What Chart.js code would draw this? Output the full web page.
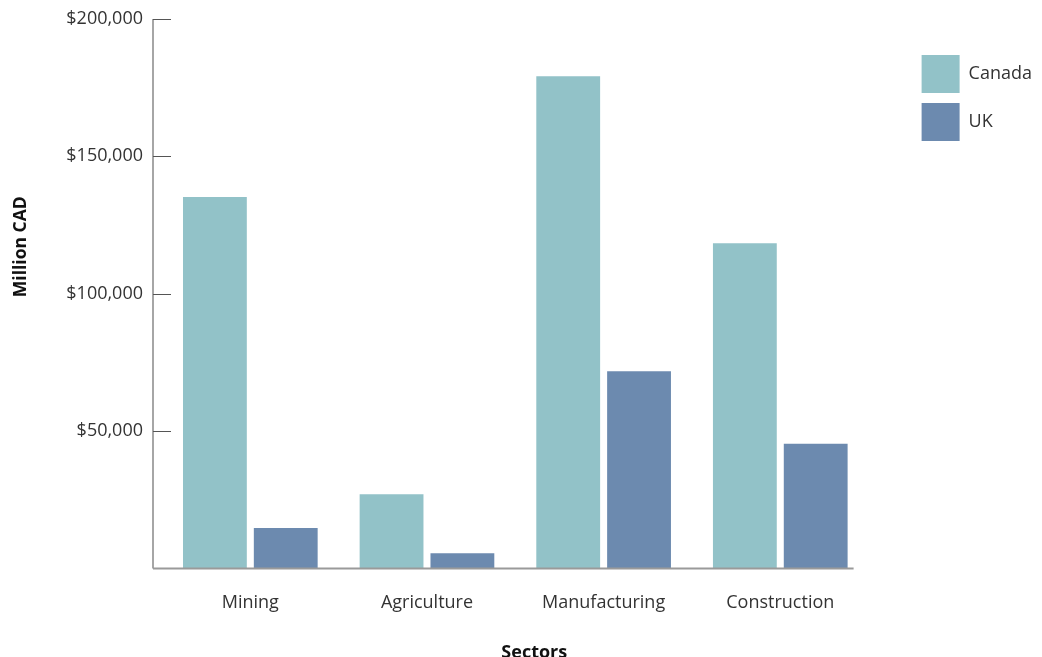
<!DOCTYPE html>
<html>
<head>
<meta charset="utf-8">
<title>Sectors</title>
<script src="https://cdn.jsdelivr.net/npm/chart.js@4.4.1/dist/chart.umd.min.js"></script>
<style>
    html, body { margin: 0; padding: 0; background: #ffffff; }
    #wrap { width: 1042px; height: 657px; }
</style>
</head>
<body>
<div id="wrap"><canvas id="sectoresChart" width="1042" height="657"></canvas></div>
<script>
// datos (millones CAD)
var categorias = ['Mining', 'Agriculture', 'Manufacturing', 'Construction'];
var valoresCanada = [135200, 27000, 179200, 118400];
var valoresUK = [14700, 5500, 71800, 45400];
var ticksY = [0, 50000, 100000, 150000, 200000];

var colorCanada = '#92c2c8';
var colorUK = '#6c8aaf';

// ejes dibujados a mano: linea vertical algo a la izquierda del area, ticks hacia dentro
var ejesPlugin = {
    id: 'ejes',
    afterDatasetsDraw: function (chart) {
        var ctx = chart.ctx;
        var area = chart.chartArea;
        var y = chart.scales.y;
        var ejeX = area.left - 9;
        var y0 = y.getPixelForValue(0);
        var yTop = y.getPixelForValue(ticksY[ticksY.length - 1]);

        ctx.save();
        ctx.strokeStyle = '#6b6b6b';
        ctx.lineWidth = 1.2;
        ctx.beginPath();
        ctx.moveTo(ejeX, yTop);
        ctx.lineTo(ejeX, y0);
        ctx.stroke();

        ctx.strokeStyle = '#9a9a9a';
        ctx.lineWidth = 2;
        ctx.beginPath();
        ctx.moveTo(ejeX, y0);
        ctx.lineTo(area.right - 15, y0);
        ctx.stroke();

        ctx.strokeStyle = '#555555';
        ctx.lineWidth = 1;
        y.ticks.forEach(function (t) {
            if (t.value === 0) return;
            var py = Math.round(y.getPixelForValue(t.value)) + 0.5;
            ctx.beginPath();
            ctx.moveTo(ejeX, py);
            ctx.lineTo(ejeX + 18, py);
            ctx.stroke();
        });
        ctx.restore();
    },
    afterDraw: function (chart) {
        // titulos de ejes
        var ctx = chart.ctx;
        var area = chart.chartArea;
        ctx.save();
        ctx.fillStyle = '#111111';
        ctx.font = 'bold 17.5px "Open Sans"';
        ctx.textAlign = 'center';
        ctx.textBaseline = 'middle';
        ctx.translate(21, (area.top + area.bottom) / 2 - 47);
        ctx.rotate(-Math.PI / 2);
        ctx.fillText('Million CAD', 0, 0);
        ctx.restore();

        ctx.save();
        ctx.fillStyle = '#111111';
        ctx.font = 'bold 18px "Open Sans"';
        ctx.textAlign = 'center';
        ctx.textBaseline = 'middle';
        ctx.fillText('Sectors', (area.left + area.right) / 2 + 19, area.bottom + 84);
        ctx.restore();
    },
    afterLayout: function (chart) {
        // leyenda separada del area y bajada un poco
        var lg = chart.legend;
        if (!lg) return;
        var w = lg.width;
        lg.left = chart.chartArea.right + 43;
        lg.right = lg.left + w;
        lg.top += 26;
    }
};

var ctx = document.getElementById('sectoresChart');

new Chart(ctx, {
    type: 'bar',
    data: {
        labels: categorias,
        datasets: [{
            label: 'Canada',
            data: valoresCanada,
            backgroundColor: colorCanada,
            borderWidth: 0,
            categoryPercentage: 0.802,
            barPercentage: 0.901
        }, {
            label: 'UK',
            data: valoresUK,
            backgroundColor: colorUK,
            borderWidth: 0,
            categoryPercentage: 0.802,
            barPercentage: 0.901
        }]
    },
    options: {
        responsive: false,
        animation: false,
        layout: {
            padding: { top: 19, right: 43, bottom: 19, left: 0 }
        },
        plugins: {
            legend: {
                position: 'right',
                align: 'start',
                labels: {
                    boxWidth: 38,
                    boxHeight: 38,
                    padding: 10,
                    color: '#333333',
                    font: { family: 'Open Sans', size: 18 }
                }
            },
            tooltip: { enabled: false }
        },
        scales: {
            x: {
                grid: { display: false, drawTicks: false },
                border: { display: false },
                ticks: {
                    color: '#333333',
                    padding: 24,
                    font: { family: 'Open Sans', size: 18 }
                }
            },
            y: {
                min: 0,
                max: 200000,
                afterFit: function (scale) { scale.width = 162; },
                afterBuildTicks: function (scale) {
                    scale.ticks = ticksY.map(function (v) { return { value: v }; });
                },
                // el hueco entre etiqueta y eje va como tickLength (invisible) para no inflar el padding superior
                grid: { display: false, drawTicks: true, tickLength: 19, tickColor: 'rgba(0,0,0,0)' },
                border: { display: false },
                ticks: {
                    color: '#333333',
                    padding: 0,
                    font: { family: 'Open Sans', size: 18 },
                    callback: function (v) {
                        return v === 0 ? '' : '$' + v.toLocaleString('en-US');
                    }
                }
            }
        }
    },
    plugins: [ejesPlugin]
});
</script>
</body>
</html>
